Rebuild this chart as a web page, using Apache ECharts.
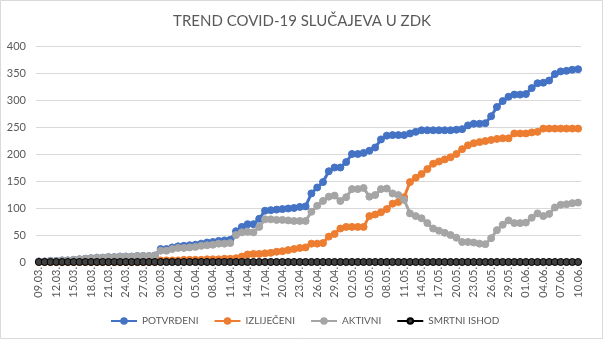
<!DOCTYPE html>
<html><head><meta charset="utf-8">
<script src="https://cdn.jsdelivr.net/npm/echarts@6/dist/echarts.min.js"></script>
<style>html,body{margin:0;padding:0;background:#fff}#c{width:604px;height:340px}</style>
</head><body><div id="c"></div>
<script>
const titleText = 'TREND COVID-19 SLUČAJEVA U ZDK';
const dates = [
'09.03.','10.03.','11.03.','12.03.','13.03.','14.03.','15.03.','16.03.','17.03.','18.03.','19.03.','20.03.','21.03.','22.03.','23.03.','24.03.','25.03.','26.03.','27.03.','28.03.','29.03.','30.03.','31.03.',
'01.04.','02.04.','03.04.','04.04.','05.04.','06.04.','07.04.','08.04.','09.04.','10.04.','11.04.','12.04.','13.04.','14.04.','15.04.','16.04.','17.04.','18.04.','19.04.','20.04.','21.04.','22.04.','23.04.','24.04.','25.04.','26.04.','27.04.','28.04.','29.04.','30.04.',
'01.05.','02.05.','03.05.','04.05.','05.05.','06.05.','07.05.','08.05.','09.05.','10.05.','11.05.','12.05.','13.05.','14.05.','15.05.','16.05.','17.05.','18.05.','19.05.','20.05.','21.05.','22.05.','23.05.','24.05.','25.05.','26.05.','27.05.','28.05.','29.05.','30.05.','31.05.',
'01.06.','02.06.','03.06.','04.06.','05.06.','06.06.','07.06.','08.06.','09.06.','10.06.'];
const seriesNames = ['POTVRĐENI','IZLIJEČENI','AKTIVNI','SMRTNI ISHOD'];
const potvrdeni = [1,1,2,2,3,3,4,5,6,7,8,8,9,9,10,10,10,11,11,11,12,
24,24,27,29,30,31,32,34,36,37,39,40,41,
57,65,70,70,80,95,96,97,98,99,100,102,103,
127,138,148,168,175,175,185,200,200,202,206,212,227,
234,235,235,235,238,241,244,244,244,244,244,244,245,
246,253,256,256,257,270,287,298,306,310,310,311,322,
331,332,336,348,353,354,356,357];
const izlijeceni = [0,0,0,0,0,0,0,0,0,0,0,0,0,0,0,0,0,0,0,0,0,
3,3,3,3,4,4,4,4,5,5,5,6,6,
7,10,14,15,15,16,17,19,20,22,24,26,27,
34,34,35,47,52,62,65,65,65,65,85,88,92,
98,108,111,120,148,156,163,172,182,186,190,194,200,
209,216,220,222,224,226,228,229,229,238,238,238,240,
241,247,247,247,247,247,247,247];
const aktivni = [1,1,2,2,3,3,4,5,6,7,8,8,9,9,10,10,10,11,11,11,12,
21,21,24,26,26,27,28,30,31,32,34,34,35,
50,55,56,55,65,79,79,78,78,77,76,76,76,
93,104,113,121,123,113,120,135,135,137,121,124,135,
136,127,124,115,90,85,81,72,62,58,54,50,45,
37,37,36,34,33,44,59,69,77,72,72,73,82,
90,85,89,101,106,107,109,110];
const smrtni = [0,0,0,0,0,0,0,0,0,0,0,0,0,0,0,0,0,0,0,0,0,
0,0,0,0,0,0,0,0,0,0,0,0,0,
0,0,0,0,0,0,0,0,0,0,0,0,0,
0,0,0,0,0,0,0,0,0,0,0,0,0,
0,0,0,0,0,0,0,0,0,0,0,0,0,
0,0,0,0,0,0,0,0,0,0,0,0,0,
0,0,0,0,0,0,0,0];
const yMin = 0, yMax = 400, yStep = 50;

const FONT = 'Lato, "Open Sans", sans-serif';
const TXT = '#595959';
const colors = ['#4472C4','#ED7D31','#A5A5A5','#000000'];
const fills = ['#4472C4','#ED7D31','#A5A5A5','#404040'];
const datas = [potvrdeni, izlijeceni, aktivni, smrtni];

const chart = echarts.init(document.getElementById('c'), null, {renderer:'canvas'});
chart.setOption({
  animation: false,
  backgroundColor: '#fff',
  title: {
    text: titleText, left: 'center', top: 9,
    textStyle: {fontFamily: FONT, fontSize: 15, fontWeight: 'normal', color: TXT}
  },
  graphic: [{type:'rect', shape:{x:0.5,y:0.5,width:602,height:338}, style:{fill:'none', stroke:'#d9d9d9', lineWidth:1}, silent:true}],
  grid: {left: 36, right: 23, top: 46, bottom: 78},
  legend: {
    data: seriesNames, left: 105, top: 311, itemWidth: 26, itemHeight: 7, itemGap: 15,
    textStyle: {fontFamily: FONT, fontSize: 10, color: TXT}
  },
  xAxis: {
    type: 'category', data: dates, boundaryGap: true,
    axisLine: {lineStyle: {color: '#d9d9d9'}},
    axisTick: {show: false},
    axisLabel: {interval: 2, rotate: 90, fontFamily: FONT, fontSize: 11, color: TXT, margin: 5}
  },
  yAxis: {
    type: 'value', min: yMin, max: yMax, interval: yStep,
    axisLine: {show: false}, axisTick: {show: false},
    splitLine: {lineStyle: {color: '#d9d9d9'}},
    axisLabel: {fontFamily: FONT, fontSize: 11, color: TXT, margin: 10}
  },
  series: seriesNames.map((n, k) => ({
    name: n, type: 'line', data: datas[k],
    symbol: 'circle', symbolSize: 7, showAllSymbol: true,
    lineStyle: {color: colors[k], width: 3},
    itemStyle: {color: fills[k], borderColor: colors[k], borderWidth: 1}
  }))
});
</script></body></html>
